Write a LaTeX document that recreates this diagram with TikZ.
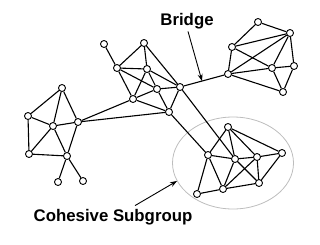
\documentclass[tikz,border=0pt]{standalone}
\usepackage{fontspec}
\setmainfont{Liberation Sans}
\usetikzlibrary{arrows.meta, shapes.geometric}
\definecolor{mRing}{HTML}{BDBDBD}

\begin{document}
\begin{tikzpicture}[x=1pt, y=-1pt, line width=1.1pt,
      vx/.style={draw, circle, fill=white, line width=0.9pt, minimum size=7pt, inner sep=0pt},
      lbl/.style={font=\bfseries\fontsize{16.8}{20}\selectfont, inner sep=0pt}]
    \useasboundingbox (0,0) rectangle (320,244);
    % cohesive subgroup ring
    \node[draw=mRing, line width=0.8pt, ellipse, minimum width=121pt, minimum height=92pt] (ring) at (233,163) {};
    % left cluster
    \node[vx] (l1) at (62,88) {};
    \node[vx] (l2) at (28,116) {};
    \node[vx] (l3) at (53,126) {};
    \node[vx] (l4) at (78,122) {};
    \node[vx] (l5) at (29,154) {};
    \node[vx] (l6) at (67,156) {};
    \node[vx] (l7) at (58,182) {};
    \node[vx] (l8) at (83,181) {};
    % middle cluster
    \node[vx] (m1) at (104,44) {};
    \node[vx] (m2) at (144,43) {};
    \node[vx] (m3) at (117,68) {};
    \node[vx] (m4) at (147,69) {};
    \node[vx] (m5) at (157,89) {};
    \node[vx] (m6) at (180,87) {};
    \node[vx] (m7) at (133,99) {};
    \node[vx] (m8) at (169,112) {};
    % right cluster
    \node[vx] (r1) at (228,74) {};
    \node[vx] (r2) at (232,47) {};
    \node[vx] (r3) at (258,22) {};
    \node[vx] (r4) at (290,33) {};
    \node[vx] (r5) at (272,68) {};
    \node[vx] (r6) at (294,66) {};
    \node[vx] (r7) at (283,92) {};
    % subgroup
    \node[vx] (s1) at (228,127) {};
    \node[vx] (s2) at (208,155) {};
    \node[vx] (s3) at (235,159) {};
    \node[vx] (s4) at (257,157) {};
    \node[vx] (s5) at (282,153) {};
    \node[vx] (s6) at (197,194) {};
    \node[vx] (s7) at (223,189) {};
    \node[vx] (s8) at (259,183) {};
    \draw (l1) -- (l2); \draw (l1) -- (l3); \draw (l1) -- (l4); \draw (l2) -- (l3);
    \draw (l2) -- (l5); \draw (l3) -- (l4); \draw (l3) -- (l5); \draw (l3) -- (l6);
    \draw (l4) -- (l6); \draw (l5) -- (l6); \draw (l6) -- (l7); \draw (l6) -- (l8);
    \draw (l4) -- (m7); \draw (l4) -- (m8);
    \draw (m1) -- (m3); \draw (m3) -- (m2); \draw (m2) -- (m4); \draw (m2) -- (m6);
    \draw (m3) -- (m4); \draw (m3) -- (m5); \draw (m3) -- (m7); \draw (m4) -- (m7);
    \draw (m4) -- (m5); \draw (m4) -- (m6); \draw (m7) -- (m5); \draw (m5) -- (m6);
    \draw (m5) -- (m8); \draw (m7) -- (m8); \draw (m6) -- (m8);
    \draw (m6) -- (r1) coordinate[pos=0.45] (bridgept);
    \draw (m8) -- (s2); \draw (m6) -- (s3);
    \draw (r2) -- (r3); \draw (r3) -- (r4); \draw (r2) -- (r4); \draw (r2) -- (r1);
    \draw (r1) -- (r4); \draw (r2) -- (r5); \draw (r1) -- (r5); \draw (r1) -- (r7);
    \draw (r4) -- (r5); \draw (r4) -- (r6); \draw (r5) -- (r6); \draw (r5) -- (r7);
    \draw (r6) -- (r7);
    \draw (s1) -- (s2); \draw (s1) -- (s3); \draw (s1) -- (s4); \draw (s1) -- (s5);
    \draw (s2) -- (s3); \draw (s2) -- (s6); \draw (s2) -- (s7); \draw (s3) -- (s4);
    \draw (s3) -- (s7); \draw (s3) -- (s8); \draw (s4) -- (s5); \draw (s4) -- (s7);
    \draw (s4) -- (s8); \draw (s5) -- (s8); \draw (s6) -- (s7); \draw (s7) -- (s8);
    % labels
    \node[lbl] (bridge) at (187,21) {Bridge};
    \node[lbl] (cohesive) at (113,217) {Cohesive Subgroup};
    \coordinate (ringpt) at (177,181);
    \draw[-{Stealth[length=7pt, width=5pt]}, line width=0.9pt] (bridge.south) ++(1,2) -- (bridgept);
    \draw[-{Stealth[length=7pt, width=5pt]}, line width=0.9pt] (cohesive.north) ++(22,-3) -- (ringpt);
\end{tikzpicture}
\end{document}
